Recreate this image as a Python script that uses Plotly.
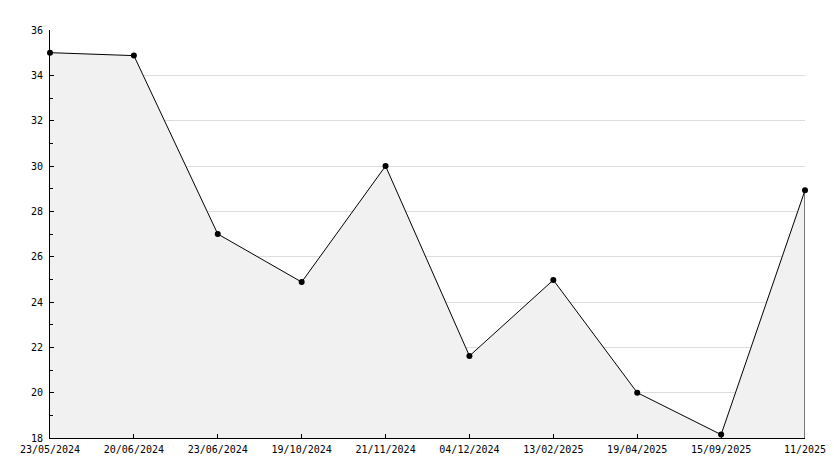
import plotly.graph_objects as go

dates = ["23/05/2024", "20/06/2024", "23/06/2024", "19/10/2024", "21/11/2024",
         "04/12/2024", "13/02/2025", "19/04/2025", "15/09/2025", "11/2025"]
values = [35.0, 34.87, 27.0, 24.88, 30.0, 21.62, 24.97, 20.0, 18.15, 28.93]
y_ticks = [18, 20, 22, 24, 26, 28, 30, 32, 34, 36]

ymin, ymax = 18, 36
xpos = list(range(len(dates)))

fig = go.Figure()
fig.add_trace(go.Scatter(
    x=xpos, y=values, mode="lines+markers",
    fill="tozeroy", fillcolor="#f1f1f1",
    line=dict(color="black", width=1),
    marker=dict(color="black", size=6, symbol="circle"),
    showlegend=False, hoverinfo="skip", cliponaxis=False))
# right edge of the filled area
fig.add_trace(go.Scatter(
    x=[xpos[-1], xpos[-1]], y=[values[-1], ymin], mode="lines",
    line=dict(color="black", width=1), showlegend=False, hoverinfo="skip"))

font = dict(family="DejaVu Sans Mono", size=10, color="black")
fig.update_layout(
    width=826, height=460,
    margin=dict(l=42, r=29, t=22, b=30),
    paper_bgcolor="white", plot_bgcolor="white",
    font=font,
    xaxis=dict(
        range=[0, len(dates) - 1], tickmode="array",
        tickvals=xpos, ticktext=dates, automargin=False,
        showgrid=False, zeroline=False,
        showline=True, linecolor="black", linewidth=1,
        ticks="inside", ticklen=4, tickcolor="black",
        ticklabelstandoff=2,
        tickfont=font),
    yaxis=dict(
        range=[ymin, ymax], tickmode="array", tickvals=y_ticks,
        automargin=False,
        showgrid=True, gridcolor="#dddddd", gridwidth=1,
        zeroline=False,
        showline=True, linecolor="black", linewidth=1,
        ticks="inside", ticklen=4, tickcolor="black",
        ticklabelstandoff=4,
        minor=dict(dtick=1, tick0=17, ticks="inside", ticklen=3, tickcolor="black", showgrid=False),
        tickfont=font),
)
fig.write_html("out.html")
